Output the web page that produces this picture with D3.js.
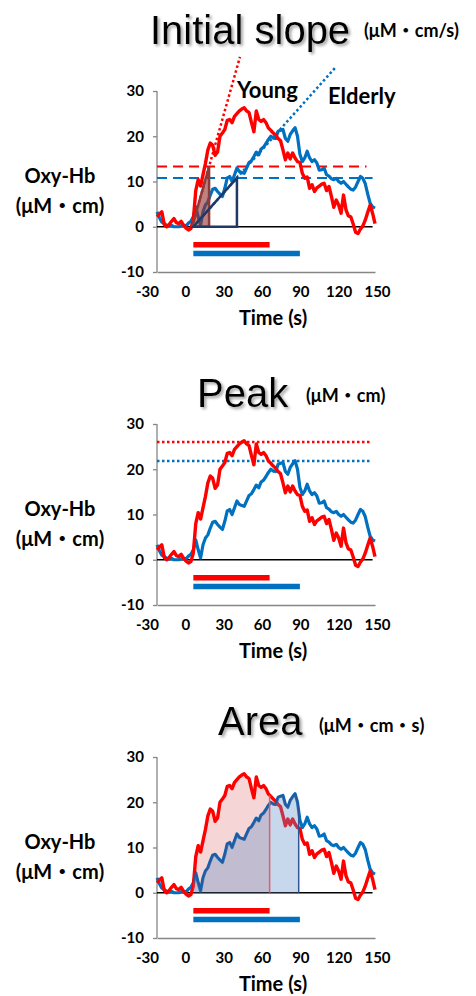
<!DOCTYPE html>
<html>
<head>
<meta charset="utf-8">
<script src="https://cdn.jsdelivr.net/npm/d3@7"></script>
<style>
  body { margin: 0; background: #fff; }
  svg text { font-family: Lato, "Noto Sans CJK JP", sans-serif; font-weight: 700; fill: #000; }
  .title { font-family: "Liberation Sans", Arial, sans-serif; font-weight: 400; font-size: 40px; }
  .axis path, .axis line { stroke: #868686; stroke-width: 1.3; }
  .axis text { font-size: 15px; }
</style>
</head>
<body>
<div id="chart"></div>
<script>
var width = 476,
    height = 996;

// time (s) and Oxy-Hb traces (uM*cm)
var times = [-30, -28, -26, -24, -22, -20, -18, -16, -14, -12, -10, -8, -6, -4, -2,
  0, 2, 4, 6, 8, 10, 12, 14, 16, 18, 20, 22, 24, 26, 28, 30, 32, 34, 36, 38, 40,
  42, 44, 46, 48, 50, 52, 54, 56, 58, 60, 62, 64, 66, 68, 70, 72, 74, 76, 78, 80,
  82, 84, 86, 88, 90, 92, 94, 96, 98, 100, 102, 104, 106, 108, 110, 112, 114, 116,
  118, 120, 122, 124, 126, 128, 130, 132, 134, 136, 138, 140, 142, 144, 146, 148, 150];

var young = [2.2, 2.8, 3.3, 0.5, 0, 0.5, 1.2, 1.8, 0.9, 0.7, 1.2, 0.3, -0.3, -0.7, -0.4,
  1.5, 8, 10.4, 9, 11.5, 14, 17, 18.5, 18, 15.8, 16.5, 20, 20.7, 21.5, 23.5, 23.7, 23, 24.4, 25, 25.6, 26,
  26.3, 25.6, 25.2, 23, 21, 25.6, 23.7, 23.3, 23.7, 23, 21.8, 21.3, 20.7, 20.2, 19.5, 19, 17, 14.8, 16.3, 15,
  16.3, 15.2, 14.4, 14.2, 11.8, 10.7, 11, 8.5, 9.3, 7.8, 8.6, 9, 9.4, 9.6, 8, 8.9, 6.7, 4.3,
  5.9, 4.8, 3, 7, 3.8, 2.4, 2.2, 0.6, -1.2, -1.5, -0.5, 0.2, 1.5, 3.2, 4.8, 3, 0.7];

var elderly = [3.3, 2, 1, 0.7, 0.3, 0.2, 0.3, 0, 0, 0, 0.2, 0.3, 0.2, 0.8, 1.2,
  2.2, 4.4, 2.2, 0.4, 3.3, 4.8, 5.5, 7, 8.3, 8.5, 7.8, 7.2, 6.7, 8.5, 10.8, 11.1, 10, 11.5, 13, 12.2, 12,
  11.8, 13, 14.2, 14.6, 15.5, 16.5, 15.9, 17.2, 17.6, 18.4, 19.3, 20, 19.6, 19.5, 21.1, 21.3, 21.5, 19.5, 18.9, 20.4,
  21.2, 21.9, 20, 16, 14.4, 15.2, 16.7, 15.2, 14.4, 14.8, 14.1, 12.5, 12.6, 13, 11.5, 11.2, 10.6, 10.4,
  10.7, 10, 9.6, 10, 9.4, 8.8, 8.3, 8.1, 8.8, 10, 11.1, 10.7, 9.5, 7.2, 5.2, 4.4, 4.1];

// per group: Young, Elderly
var groups = ["Young", "Elderly"];
var taskEnd = [63, 88];
var slopeOnset = [-1, 0];
var slopeRate = [0.95, 0.3];
var slopeTriEnd = [13, 36];
var slopeLineEnd = [38.5, 117];
var slopeLevelEnd = [143, 148];
var peakValue = [26, 21.8];
var areaEnd = [63, 87];

var panelTitles = ["Initial slope", "Peak", "Area"];
var panelUnits = ["(μM・cm/s)", "(μM・cm)", "(μM・cm・s)"];
var xTicks = [-30, 0, 30, 60, 90, 120, 150];
var yTicks = [-10, 0, 10, 20, 30];

var red = "#ff0000", blue = "#0070c0", navy = "#203864";
var colors = [red, blue];

// layout
var panelTop = [91, 424, 757];
var plotH = 181;
var titlePos = [[150, -47], [197, -17], [218, -22]];
var unitPos = [[364, -61], [306, -29], [319, -32]];
var barLevel = [-4, -5.9];

var svg = d3.select("#chart").append("svg")
    .attr("width", width)
    .attr("height", height);

var defs = svg.append("defs");
var shadow = defs.append("filter").attr("id", "shadow")
    .attr("x", "-10%").attr("y", "-20%").attr("width", "130%").attr("height", "150%");
shadow.append("feDropShadow")
    .attr("dx", 2).attr("dy", 2).attr("stdDeviation", 1.5)
    .attr("flood-color", "#777").attr("flood-opacity", 0.7);

var x = d3.scaleLinear().domain([-30, 150]).range([157, 375]);
var xLabel = d3.scaleLinear().domain([-30, 150]).range([147, 377]);
var plain = function(d) { return String(d); };

// value at any time, linear between samples
function valueAt(vals, t) {
  var i = d3.bisectLeft(times, t);
  if (times[i] === t) return vals[i];
  var a = i - 1, f = (t - times[a]) / (times[i] - times[a]);
  return vals[a] + f * (vals[i] - vals[a]);
}

function segment(vals, t0, t1) {
  var pts = [[t0, valueAt(vals, t0)]];
  times.forEach(function(t, i) { if (t > t0 && t < t1) pts.push([t, vals[i]]); });
  pts.push([t1, valueAt(vals, t1)]);
  return pts;
}

function series(vals) {
  return times.map(function(t, i) { return [t, vals[i]]; });
}

function drawPanel(p) {
  var top = panelTop[p];
  var y = d3.scaleLinear().domain([-10, 30]).range([top + plotH, top]);
  var g = svg.append("g");
  var line = d3.line().x(function(d) { return x(d[0]); }).y(function(d) { return y(d[1]); });
  var area = d3.area().x(function(d) { return x(d[0]); }).y0(y(0)).y1(function(d) { return y(d[1]); });

  // titles
  g.append("text").attr("class", "title")
      .attr("x", titlePos[p][0]).attr("y", top + titlePos[p][1])
      .attr("filter", "url(#shadow)")
      .text(panelTitles[p]);
  g.append("text")
      .attr("x", unitPos[p][0]).attr("y", top + unitPos[p][1])
      .attr("dominant-baseline", "central")
      .style("font-size", "18px")
      .text(panelUnits[p]);

  // axes
  g.append("g").attr("class", "axis")
      .attr("transform", "translate(" + x(-30) + ",0)")
      .call(d3.axisLeft(y).tickValues(yTicks).tickSize(4).tickPadding(9).tickFormat(plain))
      .call(function(a) { a.select(".domain").attr("d", "M0," + y(30) + "V" + y(-10)); });
  g.append("g").attr("class", "axis")
      .attr("transform", "translate(0," + y(-10) + ")")
      .call(d3.axisBottom(x).tickValues([]).tickSizeOuter(0));
  g.append("g").attr("class", "axis")
      .attr("transform", "translate(0," + y(-10) + ")")
      .call(d3.axisBottom(xLabel).tickValues(xTicks).tickSize(0).tickPadding(14).tickFormat(plain))
      .call(function(a) { a.select(".domain").remove(); });

  g.append("text")
      .attr("x", 60).attr("y", top + 84)
      .attr("text-anchor", "middle").attr("dominant-baseline", "central")
      .style("font-size", "20px").text("Oxy-Hb");
  g.append("text")
      .attr("x", 60).attr("y", top + 114)
      .attr("text-anchor", "middle").attr("dominant-baseline", "central")
      .style("font-size", "20px").text("(μM・cm)");
  g.append("text")
      .attr("x", 273).attr("y", top + 226)
      .attr("text-anchor", "middle").attr("dominant-baseline", "central")
      .style("font-size", "20px").text("Time (s)");

  if (p === 2) {
    g.append("path").datum(segment(young, 0, areaEnd[0]))
        .attr("d", area).attr("fill", "rgb(230,150,150)").attr("fill-opacity", 0.4);
  }

  // zero line
  g.append("line")
      .attr("x1", x(-30)).attr("x2", x(148))
      .attr("y1", y(0)).attr("y2", y(0))
      .attr("stroke", "#000").attr("stroke-width", 1.5);

  if (p === 0) {
    [0, 1].forEach(function(k) {
      var lvl = slopeRate[k] * (slopeTriEnd[k] - slopeOnset[k]);
      g.append("line")
          .attr("x1", x(-30)).attr("x2", x(slopeLevelEnd[k]))
          .attr("y1", y(lvl)).attr("y2", y(lvl))
          .attr("stroke", colors[k]).attr("stroke-width", 2)
          .attr("stroke-dasharray", "10,6");
    });
  }
  if (p === 1) {
    [0, 1].forEach(function(k) {
      g.append("line")
          .attr("x1", x(-30)).attr("x2", x(147))
          .attr("y1", y(peakValue[k])).attr("y2", y(peakValue[k]))
          .attr("stroke", colors[k]).attr("stroke-width", 2.5)
          .attr("stroke-dasharray", "2.5,2.5");
    });
  }

  // traces
  g.append("path").datum(series(elderly))
      .attr("d", line).attr("fill", "none")
      .attr("stroke", blue).attr("stroke-width", 3.2).attr("stroke-linejoin", "round");
  g.append("path").datum(series(young))
      .attr("d", line).attr("fill", "none")
      .attr("stroke", red).attr("stroke-width", 3.4).attr("stroke-linejoin", "round");

  if (p === 0) {
    [0, 1].forEach(function(k) {
      var t0 = slopeOnset[k], t1 = slopeLineEnd[k];
      g.append("line")
          .attr("x1", x(t0)).attr("y1", y(0))
          .attr("x2", x(t1)).attr("y2", y(slopeRate[k] * (t1 - t0)))
          .attr("stroke", colors[k]).attr("stroke-width", 2.5)
          .attr("stroke-dasharray", "2.5,2.5");
    });
    [0, 1].forEach(function(k) {
      var t0 = slopeOnset[k], t1 = slopeTriEnd[k];
      var tri = [[t0, 0], [t1, 0], [t1, slopeRate[k] * (t1 - t0)]];
      g.append("path").datum(tri)
          .attr("d", function(d) { return line(d) + "Z"; })
          .attr("fill", k === 0 ? "rgba(150,45,45,0.6)" : "none")
          .attr("stroke", k === 0 ? "#8c3a3a" : navy)
          .attr("stroke-width", 2.5).attr("stroke-linejoin", "miter");
    });
    g.append("text").attr("x", 237).attr("y", 98)
        .style("font-size", "22px").text(groups[0]);
    g.append("text").attr("x", 328).attr("y", 104)
        .style("font-size", "22px").text(groups[1]);
  }

  if (p === 2) {
    var seg = segment(elderly, 0, areaEnd[1]);
    g.append("path").datum(seg)
        .attr("d", area).attr("fill", "rgb(98,144,201)").attr("fill-opacity", 0.35);
    g.append("path").datum(seg)
        .attr("d", line).attr("fill", "none")
        .attr("stroke", "#2f5597").attr("stroke-width", 1.8).attr("stroke-linejoin", "round");
    g.append("line")
        .attr("x1", x(areaEnd[0])).attr("x2", x(areaEnd[0]))
        .attr("y1", y(0)).attr("y2", y(valueAt(young, areaEnd[0])))
        .attr("stroke", "#d9606a").attr("stroke-width", 1.5);
    g.append("line")
        .attr("x1", x(areaEnd[1])).attr("x2", x(areaEnd[1]))
        .attr("y1", y(0)).attr("y2", y(valueAt(elderly, areaEnd[1])))
        .attr("stroke", "#2f5597").attr("stroke-width", 1.5);
  }

  // task bars
  [0, 1].forEach(function(k) {
    g.append("line")
        .attr("x1", x(0)).attr("x2", x(taskEnd[k]))
        .attr("y1", y(barLevel[k])).attr("y2", y(barLevel[k]))
        .attr("stroke", colors[k]).attr("stroke-width", 5.5);
  });
}

[0, 1, 2].forEach(drawPanel);
</script>
</body>
</html>
